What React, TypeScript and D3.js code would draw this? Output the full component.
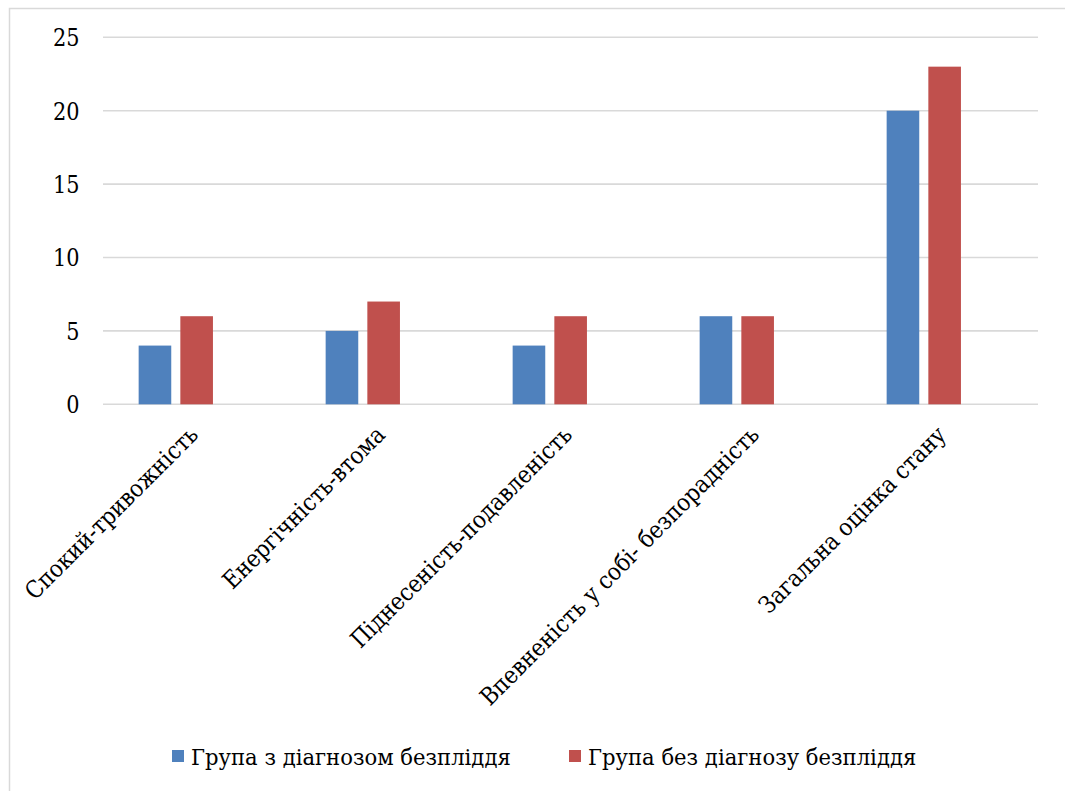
import React from "react";
import * as d3 from "d3";

const categories = [
  "Спокий-тривожність",
  "Енергічність-втома",
  "Піднесеність-подавленість",
  "Впевненість у собі- безпорадність",
  "Загальна оцінка стану",
];
const seriesNames = ["Група з діагнозом безпліддя", "Група без діагнозу безпліддя"];
const withDiagnosis = [4, 5, 4, 6, 20];
const withoutDiagnosis = [6, 7, 6, 6, 23];
const yTicks = [0, 5, 10, 15, 20, 25];
const colors = ["#4F81BD", "#C0504D"];

const W = 1065;
const H = 791;
const SERIF = "'DejaVu Serif', serif";
// DejaVu Serif runs wide, so text is narrowed horizontally to a Times-like width
const CONDENSE_TICK = 0.87;
const CONDENSE_LABEL = 0.89;
const CONDENSE_LEGEND = 0.92;

export default function App() {
  const plotLeft = 103;
  const plotRight = 1038;
  const plotTop = 37.3;
  const plotBottom = 404.3;

  const x = d3.scaleBand<string>().domain(categories).range([plotLeft, plotRight]);
  // bar clusters sit slightly left of the category centre
  const xBars = d3
    .scaleBand<string>()
    .domain(categories)
    .range([plotLeft - 20.7, plotRight - 20.7]);
  const groupWidth = 74.3;
  const xInner = d3
    .scaleBand<string>()
    .domain(seriesNames)
    .range([0, groupWidth])
    .paddingInner(0.218);
  const y = d3.scaleLinear().domain([0, 25]).range([plotBottom, plotTop]);

  const seriesValues = [withDiagnosis, withoutDiagnosis];
  const legendX = [172, 569];

  return (
    <svg
      width={W}
      height={H}
      fontFamily={SERIF}
      style={{ display: "block", position: "absolute", left: 0, top: 0, fontFamily: SERIF }}
    >
      <rect x={0} y={0} width={W} height={H} fill="#fff" />
      <rect x={9.5} y={8.5} width={W + 20} height={H + 20} fill="none" stroke="#d9d9d9" strokeWidth={1.5} />

      {yTicks.map((t) => (
        <g key={t}>
          <line x1={plotLeft} x2={plotRight} y1={y(t)} y2={y(t)} stroke="#d9d9d9" strokeWidth={1.6} />
          <text
            transform={`translate(79.5,${y(t) + 8.8}) scale(${CONDENSE_TICK},1)`}
            textAnchor="end"
            fontSize={24}
            fill="#000"
          >
            {t}
          </text>
        </g>
      ))}

      {categories.map((c, i) => (
        <g key={c} transform={`translate(${(xBars(c) as number) + xBars.bandwidth() / 2 - groupWidth / 2},0)`}>
          {seriesNames.map((s, k) => (
            <rect
              key={s}
              x={xInner(s)}
              y={y(seriesValues[k][i])}
              width={xInner.bandwidth()}
              height={plotBottom - y(seriesValues[k][i])}
              fill={colors[k]}
            />
          ))}
        </g>
      ))}

      {categories.map((c) => (
        <text
          key={c}
          transform={`translate(${(x(c) as number) + x.bandwidth() / 2 + 3},${plotBottom + 32}) rotate(-45) scale(${CONDENSE_LABEL},1)`}
          textAnchor="end"
          fontSize={24}
          fill="#000"
        >
          {c}
        </text>
      ))}

      {seriesNames.map((s, k) => (
        <g key={s}>
          <rect x={legendX[k]} y={750} width={12} height={12} fill={colors[k]} />
          <text
            transform={`translate(${legendX[k] + 19},764.5) scale(${CONDENSE_LEGEND},1)`}
            fontSize={23}
            fill="#000"
          >
            {s}
          </text>
        </g>
      ))}
    </svg>
  );
}
